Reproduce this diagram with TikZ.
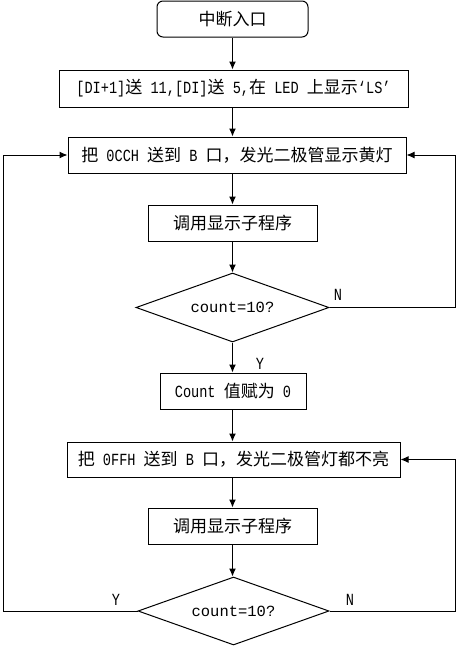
\documentclass[tikz,border=0pt]{standalone}
\usepackage{fontspec}
\setmainfont[FakeStretch=0.8]{Liberation Mono}
\newfontfamily\courier{Liberation Mono}
\newfontfamily\cjk{Noto Sans CJK SC}
\usetikzlibrary{shapes.geometric,arrows.meta}
\newcommand{\zh}[1]{{\cjk #1}}
\begin{document}
\begin{tikzpicture}[x=1pt,y=-1pt,
  every node/.style={font=\fontsize{17}{19}\selectfont, text=black},
  box/.style={draw, line width=1pt, minimum height=36pt, inner sep=0pt, align=center},
  term/.style={box, rounded corners=6pt},
  dec/.style={draw, line width=1pt, diamond, shape aspect=2.8, inner sep=0pt, font=\courier\fontsize{15.5}{17}\selectfont},
  lab/.style={inner sep=0pt},
  arr/.style={line width=1pt, -{Latex[length=8pt,width=7pt]}}]
\useasboundingbox (0,0) rectangle (458,648);
\node[term, minimum width=151pt] (start) at (232.5,19) {\zh{中断入口}};
\node[box, minimum width=349pt, minimum height=37pt] (b1) at (233.5,88.5) {[DI+1]\zh{送} 11,[DI]\zh{送} 5,\zh{在} LED \zh{上显示}‘LS’};
\node[box, minimum width=338pt] (b2) at (237,155) {\zh{把} 0CCH \zh{送到} B \zh{口，发光二极管显示黄灯}};
\node[box, minimum width=169pt] (b3) at (232.5,223) {\zh{调用显示子程序}};
\node[dec, minimum width=193pt, minimum height=69pt] (d1) at (232.5,307.5) {count=10?};
\node[box, minimum width=146pt] (b4) at (233,391) {Count \zh{值赋为} 0};
\node[box, minimum width=333pt, minimum height=35pt] (b5) at (233.5,459.5) {\zh{把} 0FFH \zh{送到} B \zh{口，发光二极管灯都不亮}};
\node[box, minimum width=169pt] (b6) at (232.5,526) {\zh{调用显示子程序}};
\node[dec, minimum width=191pt, minimum height=68pt] (d2) at (233.5,611) {count=10?};

\coordinate (L) at (3,0);
\coordinate (R) at (455,0);

\draw[arr] (start.south) -- (start.south |- b1.north);
\draw[arr] (start.south |- b1.south) -- (start.south |- b2.north);
\draw[arr] (start.south |- b2.south) -- (b3.north);
\draw[arr] (b3.south) -- (d1.north);
\draw[arr] (d1.south) -- (d1.south |- b4.north);
\draw[arr] (d1.south |- b4.south) -- (d1.south |- b5.north);
\draw[arr] (b6.north |- b5.south) -- (b6.north);
\draw[arr] (b6.south) -- (b6.south |- d2.north);

\draw[arr] (d1.east) -- (R |- d1.east) -- (R |- b2.east) -- (b2.east);
\draw[arr] (d2.east) -- (R |- d2.east) -- (R |- b5.east) -- (b5.east);
\draw[arr] (d2.west) -- (L |- d2.west) -- (L |- b2.west) -- (b2.west);

\node[lab] (n1) at (338,295) {N};
\node[lab] (y1) at (260,364) {Y};
\node[lab] (y2) at (116,600) {Y};
\node[lab] (n2) at (350,600) {N};
\end{tikzpicture}
\end{document}
